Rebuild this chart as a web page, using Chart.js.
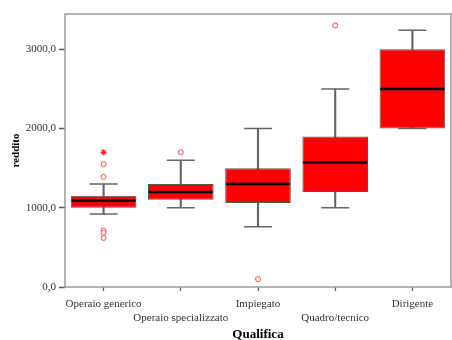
<!DOCTYPE html>
<html>
<head>
<meta charset="utf-8">
<script src="https://cdn.jsdelivr.net/npm/chart.js@4/dist/chart.umd.min.js"></script>
<style>
  html, body { margin: 0; padding: 0; background: #fff; }
  #wrap { width: 452px; height: 340px; }
</style>
</head>
<body>
<div id="wrap"><canvas id="c" width="452" height="340"></canvas></div>
<script>
// ---- data ----
const categories = ['Operaio generico', 'Operaio specializzato', 'Impiegato', 'Quadro/tecnico', 'Dirigente'];
const whiskerLow  = [920, 1000, 760, 1000, 2000];
const q1          = [1000, 1100, 1060, 1200, 2000];
const median      = [1090, 1200, 1300, 1570, 2500];
const q3          = [1150, 1300, 1500, 1900, 3000];
const whiskerHigh = [1300, 1600, 2000, 2500, 3240];
const outlierCategory = [0, 0, 0, 0, 0, 1, 2, 3];
const outlierValue    = [1550, 1390, 713, 684, 619, 1700, 100, 3300];
const extremeCategory = [0];
const extremeValue    = [1700];
const yTicks = [0, 1000, 2000, 3000];

const SERIF = "'Liberation Serif', 'DejaVu Serif', serif";

const framePlugin = {
  id: 'frame',
  beforeDatasetsDraw(chart) {
    const a = chart.chartArea, ctx = chart.ctx;
    ctx.save();
    ctx.strokeStyle = '#9a9a9a';
    ctx.lineWidth = 1.5;
    ctx.strokeRect(a.left, a.top, a.right - a.left, a.bottom - a.top);
    ctx.restore();
  }
};

new Chart(document.getElementById('c'), {
  type: 'bar',
  data: {
    labels: categories,
    datasets: [
      {
        type: 'line', label: 'median', order: 0,
        data: median, showLine: false,
        pointStyle: 'line', pointRadius: 32, pointHoverRadius: 32, pointBorderWidth: 2.5,
        pointBorderColor: '#000', pointBackgroundColor: '#000'
      },
      {
        type: 'line', label: 'outliers', order: 0,
        data: outlierValue.map((v, i) => ({ x: categories[outlierCategory[i]], y: v })),
        showLine: false,
        pointStyle: 'circle', pointRadius: 2.5, pointBorderWidth: 1,
        pointBorderColor: '#ff4a4a', pointBackgroundColor: '#fff'
      },
      {
        type: 'line', label: 'extremes', order: 0,
        data: extremeValue.map((v, i) => ({ x: categories[extremeCategory[i]], y: v })),
        showLine: false,
        pointStyle: 'star', pointRadius: 3, pointBorderWidth: 1.2,
        pointBorderColor: '#ff2020', pointBackgroundColor: '#ff2020'
      },
      {
        type: 'bar', label: 'box', order: 1, grouped: false,
        data: q1.map((v, i) => [v, q3[i]]),
        backgroundColor: '#ff0000', borderColor: '#555', borderWidth: 1,
        borderSkipped: false,
        barPercentage: 0.85, categoryPercentage: 1
      },
      {
        type: 'line', label: 'capHigh', order: 2,
        data: whiskerHigh, showLine: false,
        pointStyle: 'line', pointRadius: 14, pointBorderWidth: 1.5,
        pointBorderColor: '#666'
      },
      {
        type: 'line', label: 'capLow', order: 2,
        data: whiskerLow, showLine: false,
        pointStyle: 'line', pointRadius: 14, pointBorderWidth: 1.5,
        pointBorderColor: '#666'
      },
      {
        type: 'bar', label: 'whisker', order: 3, grouped: false,
        data: whiskerLow.map((v, i) => [v, whiskerHigh[i]]),
        backgroundColor: '#666', borderWidth: 0,
        barThickness: 1.5
      }
    ]
  },
  options: {
    responsive: false,
    animation: false,
    events: [],
    layout: { autoPadding: false, padding: { top: 14, right: 1, left: 0, bottom: 0 } },
    plugins: { legend: { display: false }, tooltip: { enabled: false } },
    scales: {
      x: {
        type: 'category',
        offset: true,
        border: { display: false },
        grid: { display: true, offset: false, drawOnChartArea: false, drawTicks: true, tickLength: 4, tickColor: '#555', tickWidth: 1.2 },
        ticks: {
          autoSkip: false, maxRotation: 0, minRotation: 0, padding: 7,
          color: '#333', font: { family: SERIF, size: 11 },
          callback: (v, i) => i % 2 === 1 ? ['', categories[i]] : categories[i]
        },
        title: { display: true, text: 'Qualifica', color: '#000', font: { family: SERIF, size: 13, weight: 'bold' }, padding: { top: 0, bottom: -2 } },
        afterFit: s => { s.height = 53; }
      },
      y: {
        min: 0, max: 3445,
        border: { display: false },
        grid: { display: true, drawOnChartArea: false, drawTicks: true, tickLength: 6, tickColor: '#555', tickWidth: 1.5 },
        afterBuildTicks: s => { s.ticks = yTicks.map(v => ({ value: v })); },
        ticks: {
          padding: 3, color: '#333', font: { family: SERIF, size: 11 },
          callback: v => v.toFixed(1).replace('.', ',')
        },
        title: { display: true, text: 'reddito', color: '#000', font: { family: SERIF, size: 11, weight: 'bold' }, padding: { top: 10, bottom: 0 } },
        afterFit: s => { s.width = 65; }
      }
    }
  },
  plugins: [framePlugin]
});
</script>
</body>
</html>
